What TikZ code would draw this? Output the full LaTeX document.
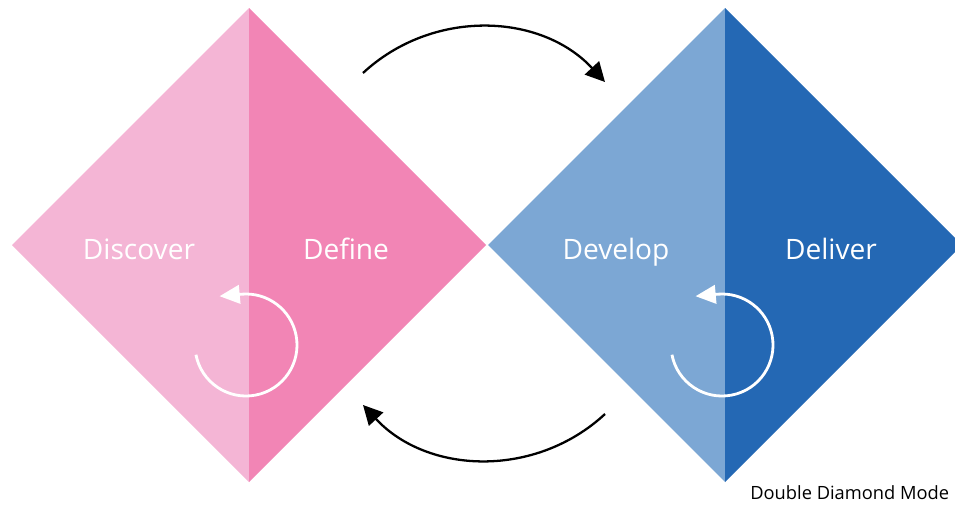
\documentclass[tikz,border=0pt]{standalone}
\usepackage{fontspec}
\setmainfont{Open Sans}
\usetikzlibrary{arrows.meta}
\definecolor{discoverpink}{HTML}{F4B5D5}
\definecolor{definepink}{HTML}{F285B5}
\definecolor{developblue}{HTML}{7CA7D4}
\definecolor{deliverblue}{HTML}{2468B4}
\begin{document}
\begin{tikzpicture}[x=0.02cm,y=0.02cm]
            \tikzset{
                phase/.style={text=white, font=\fontsize{16}{19}\selectfont, anchor=base},
                flow/.style={-{Triangle[length=11pt,width=11pt]}, line width=1.3pt},
                iterate/.style={-{Triangle[length=11.5pt,width=10.5pt]}, line width=1.6pt, white}
            }
            \useasboundingbox (0,0) rectangle (955,505);
            % the two diamonds, each as two halves
            \fill[discoverpink] (12,260) -- (249,497) -- (249,23) -- cycle;
            \fill[definepink] (249,497) -- (486,260) -- (249,23) -- cycle;
            \fill[developblue] (488,260) -- (725,497) -- (725,23) -- cycle;
            \fill[deliverblue] (725,497) -- (962,260) -- (725,23) -- cycle;
            \draw node[phase] (discover) at (139,246) {Discover};
            \draw node[phase] (define) at (346,246) {Define};
            \draw node[phase] (develop) at (616,246) {Develop};
            \draw node[phase] (deliver) at (831,246) {Deliver};
            \draw node[anchor=base west, inner sep=0pt, font=\fontsize{10.4}{12}\selectfont] (caption) at (750,6) {Double Diamond Mode};
            \coordinate (topstart) at (363,432);
            \coordinate (topend) at (605,423);
            \coordinate (botstart) at (605,91);
            \coordinate (botend) at (363,100);
            \coordinate (pinkloop) at (246,160);
            \coordinate (blueloop) at (722,160);
            \foreach \x/\y in {%
            topstart/topend, botstart/botend%
            }{
                \draw[flow] (\x) to[bend left=45] (\y);
            }
            \foreach \c in {pinkloop, blueloop}{
                \draw[iterate] (\c) ++(191:51) arc[start angle=191, end angle=455, radius=51] -- ++(-22,-2);
            }
        \end{tikzpicture}
\end{document}
